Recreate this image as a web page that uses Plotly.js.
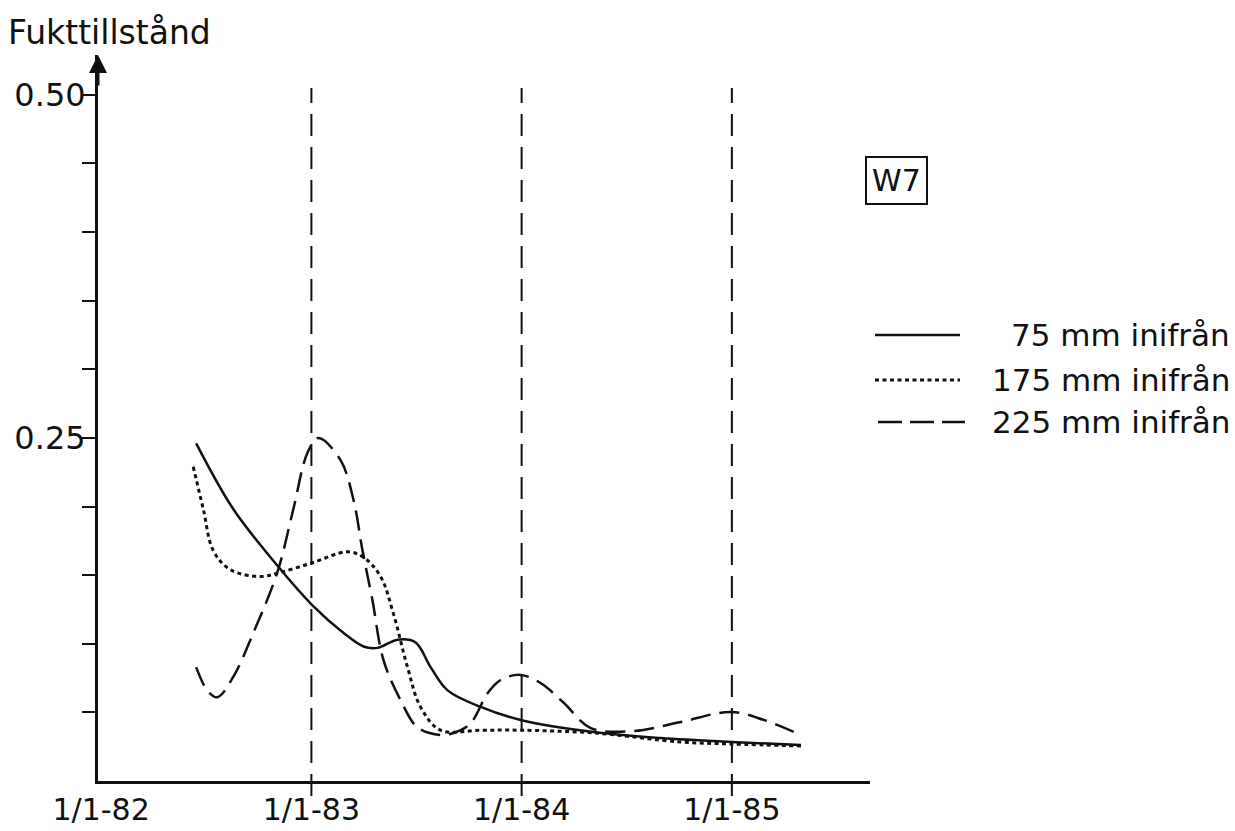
<!DOCTYPE html>
<html>
<head>
<meta charset="utf-8">
<script src="https://cdn.plot.ly/plotly-3.0.1.min.js"></script>
<style>
html,body{margin:0;padding:0;background:#fff;}
#chart{width:1235px;height:831px;}
</style>
</head>
<body>
<div id="chart"></div>
<script>
// ---- data (decimal years, moisture state) ----
var seriesNames = ["75 mm inifrån", "175 mm inifrån", "225 mm inifrån"];

var x75 = [1982.452, 1982.629, 1982.838, 1983.005, 1983.152, 1983.248, 1983.314, 1983.410, 1983.495, 1983.567, 1983.648, 1983.805, 1983.995, 1984.343, 1984.662, 1985.000, 1985.329];
var y75 = [0.246, 0.198, 0.157, 0.128, 0.108, 0.098, 0.097, 0.103, 0.101, 0.083, 0.066, 0.054, 0.0445, 0.0357, 0.0313, 0.0284, 0.0262];

var x175 = [1982.438, 1982.486, 1982.533, 1982.614, 1982.757, 1982.852, 1983.005, 1983.171, 1983.248, 1983.329, 1983.390, 1983.457, 1983.519, 1983.614, 1983.805, 1983.995, 1984.343, 1984.757, 1984.995, 1985.338];
var y175 = [0.229, 0.198, 0.168, 0.154, 0.149, 0.152, 0.159, 0.167, 0.163, 0.149, 0.122, 0.083, 0.054, 0.037, 0.037, 0.037, 0.035, 0.0284, 0.027, 0.0255];

var x225 = [1982.452, 1982.505, 1982.552, 1982.629, 1982.724, 1982.838, 1982.914, 1982.981, 1983.033, 1983.138, 1983.200, 1983.243, 1983.290, 1983.343, 1983.424, 1983.505, 1983.614, 1983.676, 1983.757, 1983.838, 1983.900, 1983.995, 1984.090, 1984.200, 1984.329, 1984.533, 1984.757, 1984.995, 1985.152, 1985.329];
var y225 = [0.083, 0.066, 0.061, 0.076, 0.108, 0.152, 0.198, 0.239, 0.250, 0.234, 0.205, 0.168, 0.132, 0.088, 0.059, 0.039, 0.0335, 0.035, 0.042, 0.064, 0.0736, 0.0773, 0.0714, 0.057, 0.0386, 0.0364, 0.043, 0.0503, 0.0445, 0.0335];

var tickYears = [1982, 1983, 1984, 1985];
var tickLabels = ["1/1-82", "1/1-83", "1/1-84", "1/1-85"];
var yTickVals = [0.05, 0.10, 0.15, 0.20, 0.25, 0.30, 0.35, 0.40, 0.45, 0.50];
var yTickText = ["", "", "", "", "0.25", "", "", "", "", "0.50"];
var refYears = [1983, 1984, 1985];
var boxLabel = "W7";
var yTitle = "Fukttillstånd";

// ---- styles ----
var FONT = "DejaVu Sans";
var dashes = ["solid", "4px,3.5px", "20px,9px"];
var widths = [2.5, 3, 2.5];

var xs = [x75, x175, x225], ys = [y75, y175, y225];
var traces = xs.map(function (xv, i) {
  return {
    type: "scatter", mode: "lines", name: seriesNames[i],
    x: xv, y: ys[i], showlegend: false,
    line: {color: "#111", width: widths[i], dash: dashes[i], shape: "spline", smoothing: 1}
  };
});

var L = 98, R = 365, T = 55, B = 50;
var W = 1235, H = 831;
var pw = W - L - R, ph = H - T - B;
function px2paperX(p) { return (p - L) / pw; }
function px2paperY(p) { return (H - B - p) / ph; }

var shapes = refYears.map(function (yr) {
  return {type: "line", xref: "x", yref: "paper", x0: yr, x1: yr,
          y0: px2paperY(796), y1: px2paperY(88),
          line: {color: "#111", width: 2, dash: "22px,11px"}, layer: "below"};
});

// manual legend samples
var legY = [335, 380, 422];
var legX0 = [875, 875, 878], legX1 = [960, 960, 965];
var legDash = ["solid", "4px,3.5px", "24px,8px"];
for (var i = 0; i < 3; i++) {
  shapes.push({type: "line", xref: "paper", yref: "paper",
    x0: px2paperX(legX0[i]), x1: px2paperX(legX1[i]),
    y0: px2paperY(legY[i]), y1: px2paperY(legY[i]),
    line: {color: "#111", width: widths[i], dash: legDash[i]}});
}

var annotations = [
  {xref: "paper", yref: "paper", x: px2paperX(6), y: px2paperY(32), xanchor: "left", yanchor: "middle",
   text: yTitle, showarrow: false, font: {family: FONT, size: 33, color: "#111"}},
  {xref: "paper", yref: "paper", x: 0, y: 1, ax: 0, ay: 32, text: "", showarrow: true,
   arrowhead: 2, arrowsize: 1.2, arrowwidth: 3, arrowcolor: "#111", standoff: 0},
  {xref: "paper", yref: "paper", x: px2paperX(897), y: px2paperY(180), xanchor: "center", yanchor: "middle",
   text: boxLabel, showarrow: false, bordercolor: "#111", borderwidth: 2, borderpad: 5,
   font: {family: FONT, size: 30, color: "#111"}}
];
for (var j = 0; j < 3; j++) {
  annotations.push({xref: "paper", yref: "paper", x: px2paperX(1232), y: px2paperY(legY[j]),
    xanchor: "right", yanchor: "middle", text: seriesNames[j], showarrow: false,
    font: {family: FONT, size: 31, color: "#111"}});
}

var layout = {
  width: W, height: H,
  margin: {l: L, r: R, t: T, b: B, pad: 0},
  paper_bgcolor: "#fff", plot_bgcolor: "#fff",
  showlegend: false,
  xaxis: {
    range: [1981.985, 1985.657], tickmode: "array", tickvals: tickYears, ticktext: tickLabels,
    showgrid: false, zeroline: false, showline: true, linecolor: "#111", linewidth: 3,
    ticks: "", ticklabelstandoff: 0,
    tickfont: {family: FONT, size: 30, color: "#111"}
  },
  yaxis: {
    range: [0, 0.529], tickmode: "array", tickvals: yTickVals, ticktext: yTickText,
    showgrid: false, zeroline: false, showline: true, linecolor: "#111", linewidth: 3,
    ticks: "outside", ticklen: 13, tickwidth: 2, tickcolor: "#111", ticklabelstandoff: -10,
    tickfont: {family: FONT, size: 32, color: "#111"}
  },
  shapes: shapes,
  annotations: annotations
};

Plotly.newPlot("chart", traces, layout, {staticPlot: true, displayModeBar: false});
</script>
</body>
</html>
